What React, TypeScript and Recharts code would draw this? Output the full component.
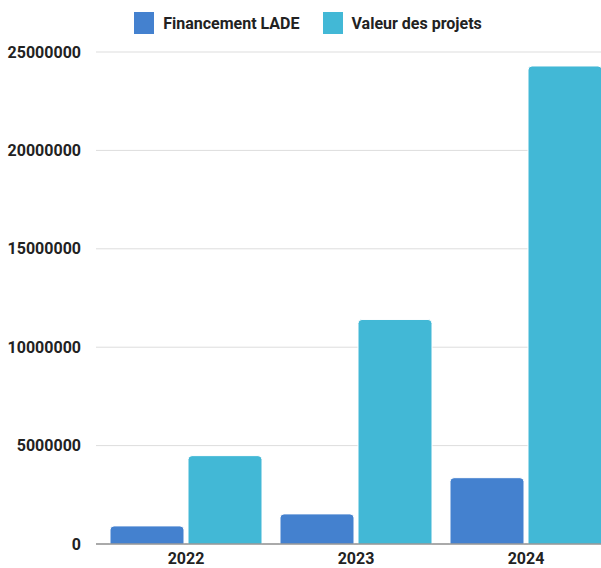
import React from 'react';
import { BarChart, Bar, XAxis, YAxis, CartesianGrid, Legend } from 'recharts';

const years = ['2022', '2023', '2024'];
const financementLade = [920000, 1530000, 3370000];
const valeurProjets = [4490000, 11410000, 24290000];
const yTicks = [0, 5000000, 10000000, 15000000, 20000000, 25000000];

const data = years.map((year, i) => ({
    year,
    financement: financementLade[i],
    valeur: valeurProjets[i],
}));

const FONT = 'Roboto, sans-serif';

const renderLegend = (props: any) => {
    const { payload } = props;
    return (
        <div style={{ display: 'flex', justifyContent: 'center', fontFamily: FONT }}>
            {payload.map((entry: any, i: number) => (
                <div key={i} style={{ display: 'flex', alignItems: 'center', marginRight: i === 0 ? 23 : 0 }}>
                    <div style={{ width: 20, height: 22, background: entry.color, marginRight: 9 }} />
                    <span style={{ fontSize: 16, fontWeight: 700, color: '#222', paddingTop: 1 }}>{entry.value}</span>
                </div>
            ))}
        </div>
    );
};

export default function App() {
    return (
        <div style={{ position: 'absolute', left: 0, top: 0, width: 601, height: 568, overflow: 'hidden', background: '#fff' }}>
            <BarChart
                width={616}
                height={568}
                data={data}
                margin={{ top: 12, right: 0, bottom: 0, left: 0 }}
                barCategoryGap={9}
                barGap={4}
            >
                <CartesianGrid vertical={false} stroke="#dddddd" />
                <Legend verticalAlign="top" height={40} content={renderLegend} />
                <XAxis
                    dataKey="year"
                    height={24}
                    padding={{ left: 5, right: 5 }}
                    tickLine={false}
                    tickSize={0}
                    tickMargin={9}
                    axisLine={{ stroke: '#666' }}
                    tick={{ fontSize: 16, fontWeight: 700, fill: '#222', fontFamily: FONT }}
                />
                <YAxis
                    width={96}
                    domain={[0, 25000000]}
                    ticks={yTicks}
                    axisLine={false}
                    tickLine={false}
                    tickSize={0}
                    tickMargin={15}
                    tick={{ fontSize: 16, fontWeight: 700, fill: '#222', fontFamily: FONT }}
                />
                <Bar
                    dataKey="financement"
                    name="Financement LADE"
                    fill="#4481cf"
                    stroke="#ffffff"
                    strokeWidth={1}
                    radius={[4, 4, 0, 0]}
                    isAnimationActive={false}
                />
                <Bar
                    dataKey="valeur"
                    name="Valeur des projets"
                    fill="#42b8d6"
                    stroke="#ffffff"
                    strokeWidth={1}
                    radius={[4, 4, 0, 0]}
                    isAnimationActive={false}
                />
            </BarChart>
        </div>
    );
}
